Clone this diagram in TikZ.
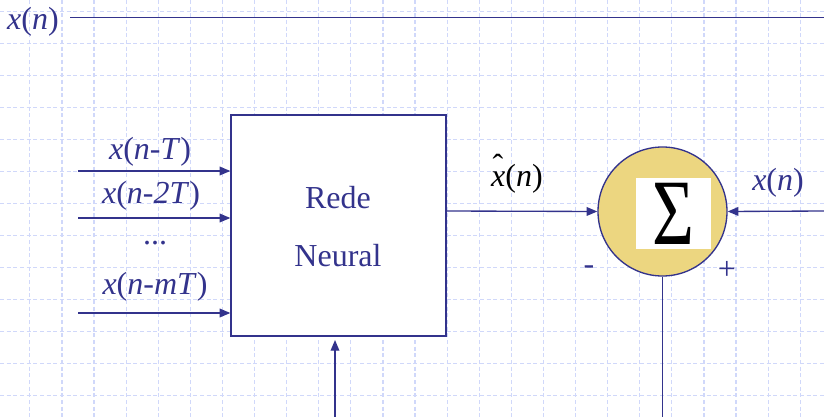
\documentclass[tikz,border=0pt]{standalone}
\usepackage{fontspec}
\setmainfont{Liberation Serif}
\usepackage{graphicx}
\usetikzlibrary{arrows.meta}
\definecolor{azul}{RGB}{51,51,140}
\definecolor{grade}{RGB}{208,216,250}
\definecolor{amarelo}{RGB}{236,214,128}
\newcommand{\xchapeu}{\textit{x}\llap{\raisebox{0.3em}{\char"02C6}\hspace{0.07em}}}

\begin{document}
\begin{tikzpicture}[x=0.75pt,y=0.75pt,yscale=-1,xscale=1,
  rotulo/.style={inner sep=0.75pt,text=azul,font=\fontsize{24}{28}\selectfont},
  seta/.style={draw=azul,line width=1pt,-{Triangle[length=8pt,width=6.5pt]}},
  linha/.style={draw=azul,line width=1pt}]
%set diagram size 824 x 417
\useasboundingbox (0,0) rectangle (824,417);
\fill[white] (0,0) rectangle (824,417);

%Grid
\foreach \k in {-1,...,25}
  \draw[grade,line width=0.9pt,dash pattern={on 3pt off 2pt}] (29.8+32.1*\k,0) -- (29.8+32.1*\k,417);
\foreach \k in {0,...,12}
  \draw[grade,line width=0.9pt,dash pattern={on 3pt off 2pt}] (0,11.3+32*\k) -- (824,11.3+32*\k);

%Shape: Rectangle
\node[draw=azul,line width=1pt,fill=white,minimum width=161.25pt,minimum height=165.75pt] (rede) at (338.5,225.5) {};
% Text Node
\node[rotulo] (txtrede) at (338,198) {Rede};
\node[rotulo] (txtneural) at (338,256) {Neural};

%Shape: Circle
\node[circle,draw=azul,line width=1pt,fill=amarelo,minimum size=96.75pt] (soma) at (662.5,211.5) {};
\node[fill=white,minimum width=56.25pt,minimum height=53.25pt,inner sep=0pt] (sigma) at (673.5,213.5)
  {\scalebox{1}[1.3]{\fontsize{54}{54}\selectfont Σ}};

% Text Node
\node[rotulo] (xn) at (33,22) {\textit{x}(\textit{n})};
\draw[linha] (70,17.5) -- (824,17.5);

% Inputs
\coordinate (e1) at (78,171);
\coordinate (e2) at (78,218);
\coordinate (em) at (78,313);
\draw[seta] (e1) -- (rede.west |- e1);
\draw[seta] (e2) -- (rede.west |- e2);
\draw[seta] (em) -- (rede.west |- em);
\node[rotulo] (lb1) at (150,152) {\textit{x}(\textit{n}-\textit{T})};
\node[rotulo] (lb2) at (151,196) {\textit{x}(\textit{n}-\textit{2T})};
\node[rotulo] (lbdots) at (155,243) {...};
\node[rotulo] (lbm) at (155,287) {\textit{x}(\textit{n}-\textit{mT})};

% Bottom input
\coordinate (bx) at (335,417);
\draw[seta,shorten >=2.5pt] (bx) -- (bx |- rede.south);

% Output
\coordinate (sd) at (446,211);
\draw[seta] (sd) -- (soma.west);
\node[rotulo,text=black] (xhat) at (517,174) {\xchapeu(\textit{n})};

% Right input
\coordinate (xr) at (824,211);
\draw[seta] (xr) -- (soma.east);
\node[rotulo] (lbxn) at (778,183) {\textit{x}(\textit{n})};
\node[rotulo] (menos) at (589,270) {-};
\node[rotulo] (mais) at (727,270) {+};

% Error line
\coordinate (sb) at (662.5,417);
\draw[linha] (soma.south) -- (sb);

\end{tikzpicture}
\end{document}
